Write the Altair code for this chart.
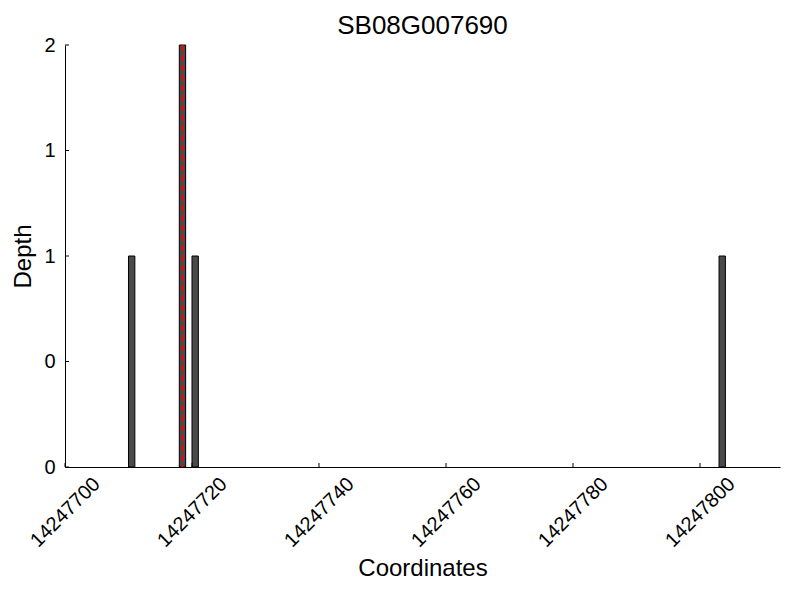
import altair as alt
import pandas as pd

# data
bar_start = [14247710, 14247718, 14247720, 14247803]
bar_end = [14247711, 14247719, 14247721, 14247804]
depth = [1, 2, 1, 1]
base = [0, 0, 0, 0]
marker_x = [14247718.5]
x_ticks = [14247700, 14247720, 14247740, 14247760, 14247780, 14247800]
y_ticks = [0, 0.5, 1, 1.5, 2]

bars = pd.DataFrame({"start": bar_start, "end": bar_end, "depth": depth, "base": base})
marker = pd.DataFrame({"pos": marker_x})
xt = pd.DataFrame({"t": x_ticks})
yt = pd.DataFrame({"t": y_ticks})

W, H = 715, 422
FONT = "Liberation Sans"

xscale = alt.Scale(domain=[14247700, 14247812.6], nice=False, zero=False)
yscale = alt.Scale(domain=[0, 2], nice=False)

xaxis = alt.Axis(values=x_ticks, format="d", labelAngle=315, labelAlign="center",
                 labelBaseline="middle", labelFontSize=20, labelFont=FONT, labelColor="black",
                 title="Coordinates", titleFontSize=24, titleFont=FONT, titleFontWeight="normal",
                 titleColor="black", titlePadding=6, ticks=False, labelPadding=45,
                 domainColor="black", grid=False, labelOverlap=False,
                 labelBound=False, labelFlush=False)
yaxis = alt.Axis(values=y_ticks, labelExpr="format(floor(datum.value), 'd')",
                 labelFontSize=20, labelFont=FONT, labelColor="black",
                 title="Depth", titleFontSize=24, titleFont=FONT, titleFontWeight="normal",
                 titleColor="black", titlePadding=8, ticks=False, labelPadding=10,
                 domainColor="black", grid=False, labelOverlap=False)

bar_layer = alt.Chart(bars).mark_bar(color="#4a4a4a", stroke="black", strokeWidth=1).encode(
    x=alt.X("start:Q", scale=xscale, axis=xaxis),
    x2="end:Q",
    y=alt.Y("depth:Q", scale=yscale, axis=yaxis),
    y2="base:Q",
)

line_layer = alt.Chart(marker).mark_rule(color="red", strokeDash=[6, 4], strokeWidth=2).encode(
    x=alt.X("pos:Q", scale=xscale)
)

xtick_layer = alt.Chart(xt).mark_rule(color="black", strokeWidth=1).encode(
    x=alt.X("t:Q", scale=xscale), y=alt.value(H), y2=alt.value(H - 4)
)
ytick_layer = alt.Chart(yt).mark_rule(color="black", strokeWidth=1).encode(
    y=alt.Y("t:Q", scale=yscale), x=alt.value(0), x2=alt.value(4)
)

chart = alt.layer(bar_layer, line_layer, xtick_layer, ytick_layer).properties(
    width=W, height=H,
    background="white",
    title=alt.Title("SB08G007690", fontSize=26, font=FONT, fontWeight="normal",
                    color="black", anchor="middle", offset=-4),
    padding={"left": 57, "top": 37, "right": 12, "bottom": 125},
    autosize=alt.AutoSizeParams(type="none"),
).configure_view(stroke="transparent", strokeWidth=0)

chart.save("out.html", embed_options={"renderer": "svg", "actions": False})
